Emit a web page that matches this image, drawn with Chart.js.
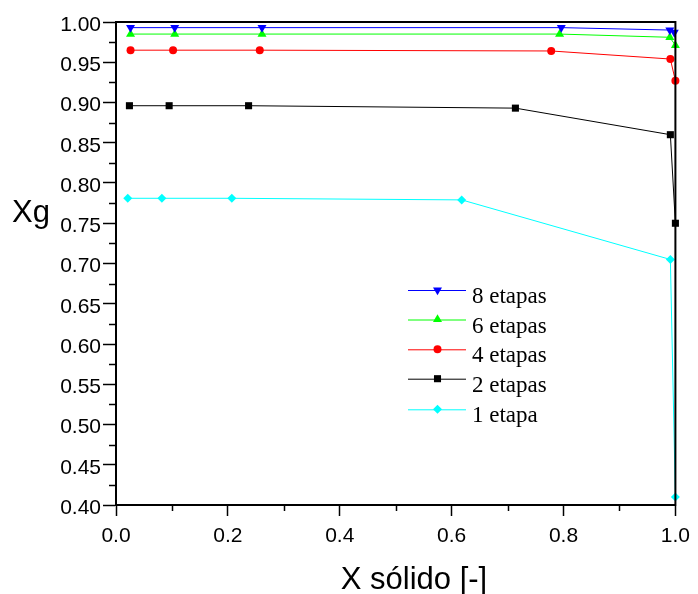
<!DOCTYPE html>
<html>
<head>
<meta charset="utf-8">
<script src="https://cdn.jsdelivr.net/npm/chart.js@4.4.1/dist/chart.umd.min.js"></script>
<style>
  html, body { margin: 0; padding: 0; background: #fff; }
  canvas { display: block; }
</style>
</head>
<body>
<canvas id="myChart" width="698" height="594"></canvas>
<script>
// data
const names = ['8 etapas', '6 etapas', '4 etapas', '2 etapas', '1 etapa'];
const x8 = [0.026, 0.105, 0.261, 0.796, 0.990, 0.998];
const y8 = [0.993, 0.993, 0.993, 0.993, 0.990, 0.987];
const x6 = [0.026, 0.105, 0.261, 0.793, 0.990, 1.000];
const y6 = [0.985, 0.985, 0.985, 0.985, 0.981, 0.971];
const x4 = [0.026, 0.102, 0.257, 0.778, 0.991, 1.000];
const y4 = [0.965, 0.965, 0.965, 0.964, 0.954, 0.927];
const x2 = [0.024, 0.095, 0.237, 0.714, 0.991, 1.000];
const y2 = [0.896, 0.896, 0.896, 0.893, 0.860, 0.750];
const x1 = [0.021, 0.082, 0.207, 0.618, 0.991, 1.000];
const y1 = [0.781, 0.781, 0.781, 0.779, 0.705, 0.410];

const xTicks = [0.0, 0.2, 0.4, 0.6, 0.8, 1.0];
const xMinor = [0.1, 0.3, 0.5, 0.7, 0.9];
const yTicks = [0.40, 0.45, 0.50, 0.55, 0.60, 0.65, 0.70, 0.75, 0.80, 0.85, 0.90, 0.95, 1.00];
const yMinor = [0.425, 0.475, 0.525, 0.575, 0.625, 0.675, 0.725, 0.775, 0.825, 0.875, 0.925, 0.975];

const colors = ['#0000ff', '#00ff00', '#ff0000', '#000000', '#00ffff'];
const styles = ['triangle', 'triangle', 'circle', 'rect', 'rectRot'];
const rotations = [180, 0, 0, 0, 0];
const radii = [5.2, 5.2, 4, 5, 4.5];

function pts(xs, ys) {
  return xs.map((x, i) => ({x: x, y: ys[i]}));
}
const allX = [x8, x6, x4, x2, x1];
const allY = [y8, y6, y4, y2, y1];

const datasets = names.map((n, i) => ({
  label: n,
  data: pts(allX[i], allY[i]),
  borderColor: colors[i],
  backgroundColor: colors[i],
  borderWidth: 1,
  pointStyle: styles[i],
  rotation: rotations[i],
  pointRadius: radii[i],
  pointBorderWidth: 0,
  pointBackgroundColor: colors[i],
  clip: false,
  tension: 0
}));

const FONT = "'Liberation Sans', Arial, sans-serif";

function marker(ctx, style, rot, x, y, r, color) {
  ctx.save();
  ctx.fillStyle = color;
  ctx.beginPath();
  if (style === 'circle') {
    ctx.arc(x, y, r, 0, Math.PI * 2);
  } else if (style === 'rect') {
    const s = r * Math.SQRT1_2;
    ctx.rect(x - s, y - s, 2 * s, 2 * s);
  } else if (style === 'rectRot') {
    ctx.moveTo(x, y - r); ctx.lineTo(x + r, y); ctx.lineTo(x, y + r); ctx.lineTo(x - r, y);
  } else {
    const a = rot * Math.PI / 180;
    for (let k = 0; k < 3; k++) {
      const ang = a - Math.PI / 2 + k * 2 * Math.PI / 3;
      const px = x + Math.cos(ang) * r, py = y + Math.sin(ang) * r;
      if (k === 0) ctx.moveTo(px, py); else ctx.lineTo(px, py);
    }
  }
  ctx.closePath();
  ctx.fill();
  ctx.restore();
}

const decor = {
  id: 'decor',
  afterDraw(chart) {
    const ctx = chart.ctx;
    const a = chart.chartArea;
    const xs = chart.scales.x, ys = chart.scales.y;
    ctx.save();
    // frame top + right
    ctx.strokeStyle = '#000';
    ctx.lineWidth = 2;
    ctx.beginPath();
    ctx.moveTo(a.left - 1, a.top);
    ctx.lineTo(a.right, a.top);
    ctx.lineTo(a.right, a.bottom + 1);
    ctx.stroke();
    // minor ticks
    ctx.lineWidth = 1.5;
    ctx.beginPath();
    yMinor.forEach(v => {
      const p = Math.round(ys.getPixelForValue(v)) + 0.5;
      ctx.moveTo(a.left - 7, p); ctx.lineTo(a.left, p);
    });
    xMinor.forEach(v => {
      const p = Math.round(xs.getPixelForValue(v)) + 0.5;
      ctx.moveTo(p, a.bottom); ctx.lineTo(p, a.bottom + 6);
    });
    ctx.stroke();
    // axis titles
    ctx.fillStyle = '#000';
    ctx.font = '31px ' + FONT;
    ctx.textAlign = 'left';
    ctx.textBaseline = 'alphabetic';
    ctx.fillText('Xg', 12, 222);
    ctx.textAlign = 'center';
    ctx.fillText('X sólido [-]', 414, 589);
    // legend
    const lx0 = 408, lx1 = 466, lm = 437.5, tx = 472;
    const rows = [290, 319.5, 349.3, 378.7, 409.3];
    ctx.font = "23px 'Liberation Serif', 'Times New Roman', serif";
    ctx.textAlign = 'left';
    names.forEach((n, i) => {
      const y = rows[i];
      ctx.strokeStyle = colors[i];
      ctx.lineWidth = 1;
      ctx.beginPath();
      ctx.moveTo(lx0, y + 0.5); ctx.lineTo(lx1, y + 0.5);
      ctx.stroke();
      marker(ctx, styles[i], rotations[i], lm, y, radii[i], colors[i]);
      ctx.fillStyle = '#000';
      ctx.fillText(n, tx, y + 13);
    });
    ctx.restore();
  }
};

Chart.defaults.font.family = FONT;
Chart.defaults.color = '#000';

const chart = new Chart(document.getElementById('myChart'), {
  type: 'line',
  data: { datasets: datasets },
  options: {
    responsive: false,
    animation: false,
    layout: { padding: { top: 22, right: 21, left: 0, bottom: 0 } },
    plugins: { legend: { display: false }, tooltip: { enabled: false } },
    scales: {
      x: {
        type: 'linear', position: 'bottom', min: 0, max: 1,
        afterBuildTicks: s => { s.ticks = xTicks.map(v => ({value: v})); },
        afterFit: s => { s.height = 89; },
        ticks: { font: { size: 21 }, padding: 8, maxRotation: 0, callback: v => v.toFixed(1) },
        grid: { drawOnChartArea: false, drawTicks: true, tickLength: 11, tickWidth: 1.5, tickColor: '#000' },
        border: { display: true, color: '#000', width: 2 }
      },
      y: {
        type: 'linear', position: 'left', min: 0.4, max: 1.0,
        afterBuildTicks: s => { s.ticks = yTicks.map(v => ({value: v})); },
        afterFit: s => { s.width = 116; },
        ticks: { font: { size: 21 }, padding: 2, labelOffset: 3, callback: v => v.toFixed(2) },
        grid: { drawOnChartArea: false, drawTicks: true, tickLength: 13, tickWidth: 1.5, tickColor: '#000' },
        border: { display: true, color: '#000', width: 2 }
      }
    }
  },
  plugins: [decor]
});
</script>
</body>
</html>
